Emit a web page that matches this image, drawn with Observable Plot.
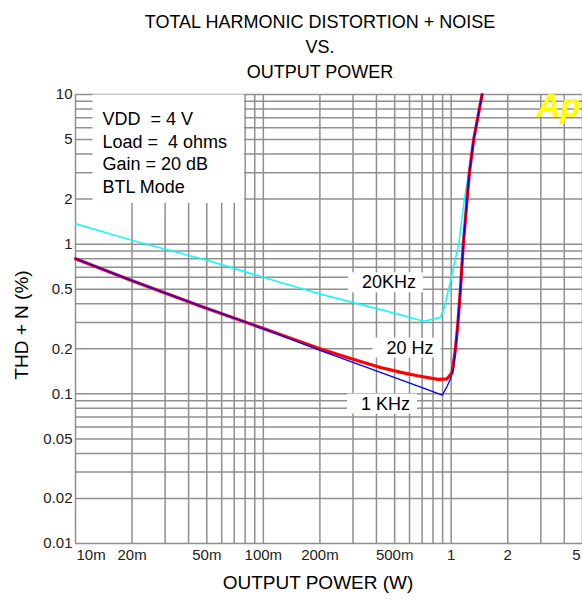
<!DOCTYPE html>
<html>
<head>
<meta charset="utf-8">
<script src="https://cdn.jsdelivr.net/npm/d3@7"></script>
<script src="https://cdn.jsdelivr.net/npm/@observablehq/plot@0.6"></script>
<style>
  html, body { margin: 0; padding: 0; background: #fff; }
  #chart { width: 582px; height: 600px; }
</style>
</head>
<body>
<div id="chart"></div>
<script>
// ---- chart text ----
const titleLines = ["TOTAL HARMONIC DISTORTION + NOISE", "VS.", "OUTPUT POWER"];
const xTitle = "OUTPUT POWER (W)";
const yTitle = "THD + N (%)";
const legendLines = ["VDD  = 4 V", "Load =  4 ohms", "Gain = 20 dB", "BTL Mode"];
const logoText = "Ap";

// ---- ticks and grid ----
const xTickValues = [0.01, 0.02, 0.05, 0.1, 0.2, 0.5, 1, 2, 5];
const xTickLabels = ["10m", "20m", "50m", "100m", "200m", "500m", "1", "2", "5"];
const yTickValues = [10, 5, 2, 1, 0.5, 0.2, 0.1, 0.05, 0.02, 0.01];
const yTickLabels = ["10", "5", "2", "1", "0.5", "0.2", "0.1", "0.05", "0.02", "0.01"];
const xGrid = [0.01, 0.02, 0.03, 0.04, 0.05, 0.06, 0.07, 0.08, 0.09,
               0.1, 0.2, 0.3, 0.4, 0.5, 0.6, 0.7, 0.8, 0.9,
               1, 2, 3, 4, 5];
const yGrid = [0.01, 0.02, 0.03, 0.04, 0.05, 0.06, 0.07, 0.08, 0.09,
               0.1, 0.2, 0.3, 0.4, 0.5, 0.6, 0.7, 0.8, 0.9,
               1, 2, 3, 4, 5, 6, 7, 8, 9, 10];

// ---- series (output power W, THD+N %) ----
const power1k = [0.01, 0.02, 0.0468, 0.1, 0.2, 0.3, 0.42, 0.54, 0.7, 0.896, 0.95, 0.99, 1.03, 1.054, 1.084, 1.12, 1.16, 1.215, 1.25, 1.317, 1.46];
const thd1k   = [0.8, 0.57, 0.384, 0.273, 0.195, 0.162, 0.139, 0.124, 0.11, 0.098, 0.112, 0.125, 0.149, 0.2, 0.29, 0.5, 1.0, 2.0, 3.0, 5.0, 10];

const power20 = [0.01, 0.02, 0.0468, 0.1, 0.2, 0.3, 0.42, 0.54, 0.66, 0.85, 0.95, 1.01, 1.054, 1.084, 1.12, 1.16, 1.215, 1.25, 1.317, 1.46];
const thd20   = [0.8, 0.57, 0.384, 0.273, 0.2, 0.17, 0.15, 0.139, 0.132, 0.125, 0.126, 0.138, 0.2, 0.29, 0.5, 1.0, 2.0, 3.0, 5.0, 10];

const power20k = [0.01, 0.02, 0.05, 0.1, 0.2, 0.5, 0.716, 0.877, 0.914, 0.99, 1.054, 1.097, 1.176, 1.25, 1.317, 1.46];
const thd20k   = [1.37, 1.06, 0.78, 0.6, 0.465, 0.345, 0.305, 0.325, 0.37, 0.56, 0.81, 1.0, 2.0, 3.2, 5.0, 10];

// ---- curve labels (data coordinates) ----
const seriesLabels = ["20KHz", "20 Hz", "1 KHz"];
const labelPower = [0.466, 0.604, 0.447];
const labelThd = [0.554, 0.203, 0.0858];

const rows = (p, t) => p.map((v, i) => ({p: v, t: t[i]}));
const labelRows = seriesLabels.map((s, i) => ({s, p: labelPower[i], t: labelThd[i]}));

const font = "'Liberation Sans', Arial, sans-serif";
const nX = xTickValues.length;
const gridColor = "#8f8f8f";

const plot = Plot.plot({
  width: 582,
  height: 600,
  marginLeft: 75,
  marginRight: 0,
  marginTop: 94,
  marginBottom: 57,
  x: {type: "log", domain: [0.01, 5], axis: null},
  y: {type: "log", domain: [0.01, 10], axis: null},
  style: {fontFamily: font, fontSize: "15px", background: "#fff", overflow: "visible", color: "#000"},
  marks: [
    Plot.ruleX(xGrid, {x: d => d, stroke: gridColor, strokeWidth: 1.5, strokeOpacity: 1}),
    Plot.ruleY(yGrid, {y: d => d, stroke: gridColor, strokeWidth: 1.5, strokeOpacity: 1}),
    // curves
    Plot.line(rows(power20k, thd20k), {x: "p", y: "t", stroke: "#00ffff", strokeWidth: 1.5}),
    Plot.line(rows(power20, thd20), {x: "p", y: "t", stroke: "#ff0000", strokeWidth: 3.2}),
    Plot.line(rows(power1k, thd1k), {x: "p", y: "t", stroke: "#0000ff", strokeWidth: 1.3}),
    // curve labels
    Plot.text(labelRows, {x: "p", y: "t", text: "s", fontSize: 18, fill: "#000"}),
    // legend block
    Plot.text([legendLines.join("\n")], {frameAnchor: "top-left", dx: 27, dy: 15, lineAnchor: "top",
      textAnchor: "start", lineHeight: 1.25, fontSize: 18, fill: "#000"}),
    // logo
    Plot.text([logoText], {frameAnchor: "top-right", dx: -2, dy: -1, lineAnchor: "top", textAnchor: "end",
      fontSize: 33, fontWeight: "bold", fontStyle: "italic", fill: "#ffff00", letterSpacing: "-4px"}),
    // y tick labels
    Plot.text(yTickValues, {y: d => d, frameAnchor: "left", textAnchor: "end", dx: -3,
      text: (d, i) => yTickLabels[i], fontSize: 15, fill: "#222"}),
    // x tick labels
    Plot.text(xTickValues, {x: d => d, frameAnchor: "bottom", dy: 12, lineAnchor: "middle",
      filter: (d, i) => i === 0, textAnchor: "start", dx: 1,
      text: (d, i) => xTickLabels[i], fontSize: 15, fill: "#222"}),
    Plot.text(xTickValues, {x: d => d, frameAnchor: "bottom", dy: 12, lineAnchor: "middle",
      filter: (d, i) => i > 0 && i < nX - 1, textAnchor: "middle",
      text: (d, i) => xTickLabels[i], fontSize: 15, fill: "#222"}),
    Plot.text(xTickValues, {x: d => d, frameAnchor: "bottom", dy: 12, lineAnchor: "middle",
      filter: (d, i) => i === nX - 1, textAnchor: "end", dx: -2,
      text: (d, i) => xTickLabels[i], fontSize: 15, fill: "#222"}),
    // axis titles
    Plot.text([xTitle], {frameAnchor: "bottom", dx: -11, dy: 39, lineAnchor: "middle", textAnchor: "middle",
      fontSize: 19, fill: "#000"}),
    Plot.text([yTitle], {frameAnchor: "left", dx: -54, dy: 6, rotate: -90, lineAnchor: "middle", textAnchor: "middle",
      fontSize: 19, fill: "#000"}),
    // title
    Plot.text([titleLines.join("\n")], {frameAnchor: "top", dx: -9, dy: -84, lineAnchor: "top", textAnchor: "middle",
      lineHeight: 1.39, fontSize: 18, fill: "#000"})
  ]
});

document.getElementById("chart").append(plot);

// white boxes behind annotation texts (matched by their content)
function boxBehind(content, pad) {
  plot.querySelectorAll("text").forEach(t => {
    if (t.textContent !== content) return;
    const b = t.getBBox();
    const r = document.createElementNS("http://www.w3.org/2000/svg", "rect");
    r.setAttribute("x", b.x - pad.l);
    r.setAttribute("y", b.y - pad.t);
    r.setAttribute("width", b.width + pad.l + pad.r);
    r.setAttribute("height", b.height + pad.t + pad.b);
    r.setAttribute("fill", "#fff");
    const tr = t.getAttribute("transform");
    if (tr) r.setAttribute("transform", tr);
    t.parentNode.insertBefore(r, t);
  });
}
seriesLabels.forEach(s => boxBehind(s, {l: 14, r: 7, t: 0, b: 0}));
boxBehind(legendLines.join(""), {l: 10, r: 17, t: 15, b: 6});
</script>
</body>
</html>
